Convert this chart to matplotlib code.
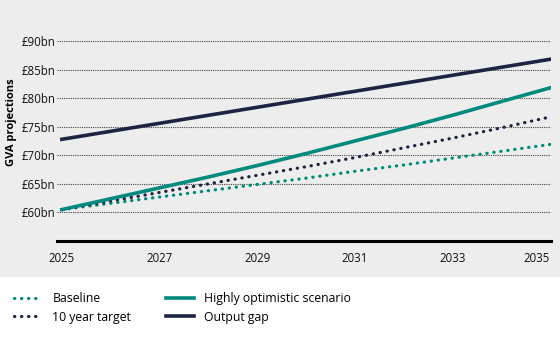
import matplotlib
matplotlib.use("Agg")
import matplotlib.pyplot as plt
from matplotlib.patches import Rectangle
from matplotlib.lines import Line2D

years = list(range(2025, 2036))
baseline = [60.5, 61.6, 62.7, 63.8, 64.9, 66.0, 67.2, 68.3, 69.5, 70.7, 71.9]
target = [60.5, 62.0, 63.5, 65.0, 66.5, 68.0, 69.6, 71.3, 73.0, 74.8, 76.7]
optimistic = [60.5, 62.4, 64.3, 66.2, 68.2, 70.3, 72.5, 74.7, 77.0, 79.4, 81.8]
output_gap = [72.8, 74.2, 75.6, 77.0, 78.4, 79.8, 81.2, 82.6, 84.0, 85.4, 86.8]
ytick_vals = [60, 65, 70, 75, 80, 85, 90]
ytick_labels = ["£60bn", "£65bn", "£70bn", "£75bn", "£80bn", "£85bn", "£90bn"]
xtick_vals = [2025, 2027, 2029, 2031, 2033, 2035]

TEAL = "#008a7c"
NAVY = "#1b2542"
BG = "#ededed"

plt.rcParams['font.family'] = ['Open Sans', 'DejaVu Sans']

W, H = 560, 337
fig = plt.figure(figsize=(W/100, H/100), dpi=100)
fig.patches.append(Rectangle((0, 1 - 277/H), 1, 277/H, transform=fig.transFigure,
                             facecolor=BG, edgecolor='none', zorder=-10))

left = 57/W
right = 551/W
bottom = 1 - 241/H
top = 1 - 35.3/H
ax = fig.add_axes([left, bottom, right - left, top - bottom])
ax.set_facecolor('none')

ax.set_ylim(55, 91)
ax.set_xlim(2024.9, 2035.02)

for v in ytick_vals:
    ax.axhline(v, color='#444444', lw=0.8, ls=(0, (1, 1)), zorder=1)

DOT = (0, (0.1, 2.1))
DLW = 2.3
ax.plot(years, baseline, color=TEAL, lw=DLW, ls=DOT, dash_capstyle='round', zorder=3)
ax.plot(years, target, color=NAVY, lw=DLW, ls=DOT, dash_capstyle='round', zorder=3)
ax.plot(years, optimistic, color=TEAL, lw=2.6, zorder=4)
ax.plot(years, output_gap, color=NAVY, lw=2.6, zorder=4)

for s in ['top', 'right', 'left']:
    ax.spines[s].set_visible(False)
ax.spines['bottom'].set_linewidth(2.2)
ax.spines['bottom'].set_color('black')

ax.set_yticks(ytick_vals)
ax.set_yticklabels(ytick_labels)
ax.set_xticks(xtick_vals)
ax.set_xticklabels([str(x) for x in xtick_vals])
ax.tick_params(axis='both', length=0, labelsize=8.3, colors='#111111')
ax.tick_params(axis='y', pad=1)
ax.tick_params(axis='x', pad=8)
xl = ax.get_xticklabels()
xl[-1].set_ha('right')
xl[0].set_ha('center')
ax.set_ylabel("GVA projections", fontsize=8, fontweight='bold')
ax.yaxis.set_label_coords(-0.081, 0.578)

def dot_handle(c):
    return Line2D([], [], color=c, lw=DLW, ls=DOT, dash_capstyle='round')

def solid_handle(c):
    return Line2D([], [], color=c, lw=2.6)

common = dict(loc='upper left', frameon=False, fontsize=8.8, handlelength=2.3,
              handletextpad=0.85, labelspacing=0.45, borderpad=0, borderaxespad=0)
fig.legend([dot_handle(TEAL), dot_handle(NAVY)], ["Baseline", "10 year target"],
           bbox_to_anchor=(14/W, 1 - 292/H), **common)
fig.legend([solid_handle(TEAL), solid_handle(NAVY)], ["Highly optimistic scenario", "Output gap"],
           bbox_to_anchor=(166/W, 1 - 292/H), **common)

fig.savefig("out.png", dpi=100)
